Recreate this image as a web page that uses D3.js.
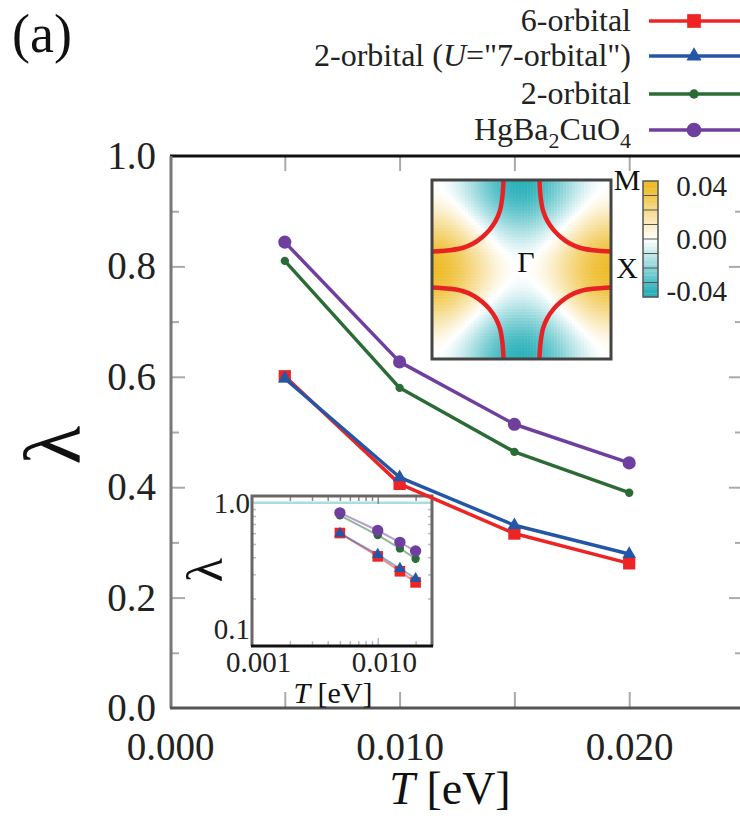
<!DOCTYPE html>
<html>
<head>
<meta charset="utf-8">
<script src="https://cdn.jsdelivr.net/npm/d3@7"></script>
<style>
  body { margin: 0; background: #fff; }
  svg { display: block; }
  svg text { font-family: "Liberation Serif", "Times New Roman", Times, "DejaVu Serif", "Noto Serif", serif; }
</style>
</head>
<body>
<div id="chart"></div>
<script>
// ---- data ----
const temps = [0.005, 0.010, 0.015, 0.020];
const sixOrbital = [0.601, 0.406, 0.316, 0.262];
const twoOrbitalU = [0.597, 0.418, 0.331, 0.279];
const twoOrbital = [0.810, 0.580, 0.464, 0.390];
const hgBaCuO = [0.844, 0.627, 0.514, 0.444];

const seriesColors = ['#ee2424', '#2456a8', '#2b6b35', '#6e3f9e'];
const seriesSymbols = ['square', 'triangle', 'dot', 'circle'];

const xTickLabels = [0.000, 0.010, 0.020];
const xTickMarks = [0.005, 0.010, 0.015, 0.020];
const yTickLabels = [0.0, 0.2, 0.4, 0.6, 0.8, 1.0];
const yTickMarks = [0.1, 0.2, 0.3, 0.4, 0.5, 0.6, 0.7, 0.8, 0.9];

const insetXLabels = [0.001, 0.010];
const insetXMarks = [0.002, 0.003, 0.004, 0.005, 0.006, 0.007, 0.008, 0.009, 0.010, 0.020];
const insetYLabels = [0.1, 1.0];
const insetYMarks = [0.2, 0.3, 0.4, 0.5, 0.6, 0.7, 0.8, 0.9];

const colorbarLabels = [0.04, 0.00, -0.04];
const gapAmplitude = 0.04;
// one Fermi-surface arc around the M corner, in units of pi (kx, ky)
const fermiArc = [[0.20, 1.0], [0.215, 0.80], [0.24, 0.66], [0.29, 0.54], [0.36, 0.44],
                  [0.44, 0.36], [0.54, 0.29], [0.66, 0.24], [0.80, 0.215], [1.0, 0.20]];

const series = [
  { values: sixOrbital, color: seriesColors[0], symbol: seriesSymbols[0] },
  { values: twoOrbitalU, color: seriesColors[1], symbol: seriesSymbols[1] },
  { values: twoOrbital, color: seriesColors[2], symbol: seriesSymbols[2] },
  { values: hgBaCuO, color: seriesColors[3], symbol: seriesSymbols[3] }
];

const width = 740, height = 820;

const svg = d3.select('#chart').append('svg')
  .attr('width', width).attr('height', height);

function markerPath(symbol, scale) {
  const sizes = { square: 150, triangle: 80, dot: 55, circle: 135 };
  const types = { square: d3.symbolSquare, triangle: d3.symbolTriangle, dot: d3.symbolCircle, circle: d3.symbolCircle };
  return d3.symbol().type(types[symbol]).size(sizes[symbol] * scale)();
}

// strip the axis' own font so the stylesheet's serif applies
const plain = g => g.attr('font-family', null).attr('font-size', null);

// ---- main scales ----
const x = d3.scaleLinear().domain([0, 0.025]).range([170, 744]);
const y = d3.scaleLinear().domain([0, 1]).range([708, 156]);

// ---- axes / frame ----
const tickGrey = '#aaaaaa';

// bottom ticks (inward)
svg.append('g').attr('transform', `translate(0,${y(0)})`)
  .call(d3.axisBottom(x).tickValues(xTickMarks).tickSize(-16).tickFormat(''))
  .call(g => g.select('.domain').remove())
  .call(g => g.selectAll('line').attr('stroke', tickGrey).attr('stroke-width', 2));
// top ticks (inward)
svg.append('g').attr('transform', `translate(0,${y(1)})`)
  .call(d3.axisTop(x).tickValues(xTickMarks).tickSize(-15).tickFormat(''))
  .call(g => g.select('.domain').remove())
  .call(g => g.selectAll('line').attr('stroke', tickGrey).attr('stroke-width', 2));
// bottom labels
svg.append('g').attr('transform', `translate(0,${y(0)})`)
  .call(d3.axisBottom(x).tickValues(xTickLabels).tickSize(0).tickPadding(24).tickFormat(d3.format('.3f')))
  .call(plain)
  .call(g => g.select('.domain').remove())
  .call(g => g.selectAll('text').attr('font-size', 39).attr('fill', '#222'));

// left ticks
svg.append('g').attr('transform', `translate(${x(0)},0)`)
  .call(d3.axisLeft(y).tickValues(yTickMarks).tickSize(-9).tickFormat(''))
  .call(g => g.select('.domain').remove())
  .call(g => g.selectAll('line').attr('stroke', tickGrey).attr('stroke-width', 2)
    .attr('x2', d => (Math.round(d * 10) % 2 === 0) ? 15 : 9));
// right ticks
svg.append('g').attr('transform', `translate(${x(0.025)},0)`)
  .call(d3.axisRight(y).tickValues(yTickMarks).tickSize(-9).tickFormat(''))
  .call(g => g.select('.domain').remove())
  .call(g => g.selectAll('line').attr('stroke', tickGrey).attr('stroke-width', 2)
    .attr('x2', d => (Math.round(d * 10) % 2 === 0) ? -15 : -9));
// left labels
svg.append('g').attr('transform', `translate(${x(0)},0)`)
  .call(d3.axisLeft(y).tickValues(yTickLabels).tickSize(0).tickPadding(14).tickFormat(d3.format('.1f')))
  .call(plain)
  .call(g => g.select('.domain').remove())
  .call(g => g.selectAll('text').attr('font-size', 39).attr('fill', '#222'));

// frame lines
svg.append('line').attr('x1', x(0)).attr('x2', width).attr('y1', y(1)).attr('y2', y(1))
  .attr('stroke', '#111').attr('stroke-width', 3);
svg.append('line').attr('x1', x(0) + 1).attr('x2', x(0) + 1).attr('y1', y(1)).attr('y2', y(0))
  .attr('stroke', '#777').attr('stroke-width', 3);
svg.append('line').attr('x1', x(0)).attr('x2', width).attr('y1', y(0)).attr('y2', y(0))
  .attr('stroke', '#555').attr('stroke-width', 3);

// axis titles
svg.append('text').attr('x', 450).attr('y', 804).attr('text-anchor', 'middle')
  .attr('font-size', 46).attr('fill', '#111')
  .call(t => { t.append('tspan').attr('font-style', 'italic').text('T'); t.append('tspan').text(' [eV]'); });
svg.append('text').attr('transform', 'translate(80,445) rotate(-90)').attr('text-anchor', 'middle')
  .attr('font-size', 80).attr('fill', '#111').text('λ');

svg.append('text').attr('x', 12).attr('y', 52).attr('font-size', 54).attr('fill', '#111').text('(a)');

// ---- log-log inset ----
const xi = d3.scaleLog().domain([0.001, 0.027]).range([252, 432]);
const yi = d3.scaleLog().domain([0.09, 1.12]).range([646, 496]);
const inset = svg.append('g');
inset.append('rect').attr('x', 252).attr('y', 496).attr('width', 180).attr('height', 150).attr('fill', '#fff');
inset.append('line').attr('x1', 252).attr('x2', 432).attr('y1', yi(1)).attr('y2', yi(1))
  .attr('stroke', '#a9dde0').attr('stroke-width', 2.5);

const insetTickLen = d => ([0.01].includes(d) ? 8 : 5);
inset.append('g').attr('transform', 'translate(0,496)')
  .call(d3.axisTop(xi).tickValues(insetXMarks).tickSize(-5).tickFormat(''))
  .call(g => g.select('.domain').remove())
  .call(g => g.selectAll('line').attr('stroke', '#888').attr('stroke-width', 1.5).attr('y2', insetTickLen));
inset.append('g').attr('transform', 'translate(0,646)')
  .call(d3.axisBottom(xi).tickValues(insetXMarks).tickSize(-5).tickFormat(''))
  .call(g => g.select('.domain').remove())
  .call(g => g.selectAll('line').attr('stroke', '#bbb').attr('stroke-width', 1.5).attr('y2', d => -insetTickLen(d)));
inset.append('g').attr('transform', 'translate(252,0)')
  .call(d3.axisLeft(yi).tickValues(insetYMarks).tickSize(-4).tickFormat(''))
  .call(g => g.select('.domain').remove())
  .call(g => g.selectAll('line').attr('stroke', '#bbb').attr('stroke-width', 1.5));
inset.append('g').attr('transform', 'translate(432,0)')
  .call(d3.axisRight(yi).tickValues(insetYMarks).tickSize(-4).tickFormat(''))
  .call(g => g.select('.domain').remove())
  .call(g => g.selectAll('line').attr('stroke', '#bbb').attr('stroke-width', 1.5));

inset.append('path').attr('d', 'M252,646 V496 H432 V646')
  .attr('fill', 'none').attr('stroke', '#6a6666').attr('stroke-width', 3);
inset.append('line').attr('x1', 251).attr('x2', 433).attr('y1', 646).attr('y2', 646)
  .attr('stroke', '#111').attr('stroke-width', 3);

inset.append('g').attr('transform', 'translate(0,646)')
  .call(d3.axisBottom(xi).tickValues(insetXLabels).tickSize(0).tickPadding(5).tickFormat(d3.format('.3f')))
  .call(plain)
  .call(g => g.select('.domain').remove())
  .call(g => g.selectAll('text').attr('font-size', 29).attr('fill', '#222').attr('dx', 6));
inset.append('g').attr('transform', 'translate(252,0)')
  .call(d3.axisLeft(yi).tickValues(insetYLabels).tickSize(0).tickPadding(2).tickFormat(d3.format('.1f')))
  .call(plain)
  .call(g => g.select('.domain').remove())
  .call(g => g.selectAll('text').attr('font-size', 29).attr('fill', '#222')
    .attr('dy', d => d < 0.5 ? '-0.05em' : '0.32em'));
inset.append('text').attr('x', 333).attr('y', 703).attr('text-anchor', 'middle')
  .attr('font-size', 30).attr('fill', '#111')
  .call(t => { t.append('tspan').attr('font-style', 'italic').text('T'); t.append('tspan').text(' [eV]'); });
inset.append('text').attr('transform', 'translate(222,570) rotate(-90)').attr('text-anchor', 'middle')
  .attr('font-size', 50).attr('fill', '#111').text('λ');

const insetLine = d3.line().x((d, i) => xi(temps[i])).y(d => yi(d));
series.forEach(s => {
  inset.append('path').attr('d', insetLine(s.values)).attr('fill', 'none')
    .attr('stroke', s.color).attr('stroke-opacity', 0.5).attr('stroke-width', 2);
});
series.forEach(s => {
  inset.selectAll(null).data(s.values).enter().append('path')
    .attr('d', markerPath(s.symbol, s.symbol === 'dot' ? 1 : 0.75))
    .attr('transform', (d, i) => `translate(${xi(temps[i])},${yi(d)})`)
    .attr('fill', s.color);
});

// ---- main series ----
const line = d3.line().x((d, i) => x(temps[i])).y(d => y(d));
series.forEach(s => {
  svg.append('path').attr('d', line(s.values)).attr('fill', 'none')
    .attr('stroke', s.color).attr('stroke-width', 3.5).attr('stroke-linejoin', 'round');
  svg.selectAll(null).data(s.values).enter().append('path')
    .attr('d', markerPath(s.symbol, 1))
    .attr('transform', (d, i) => `translate(${x(temps[i])},${y(d)})`)
    .attr('fill', s.color);
});

// ---- gap function map (d-wave form factor) ----
const mapX0 = 432, mapY0 = 180, mapSize = 179;
const kx = d3.scaleLinear().domain([-1, 1]).range([mapX0, mapX0 + mapSize]);
const ky = d3.scaleLinear().domain([-1, 1]).range([mapY0 + mapSize, mapY0]);
const gold = '#eebc2a', teal = '#2cb1ba';
const gapColor = v => v >= 0
  ? d3.interpolateRgb('#ffffff', gold)(Math.min(1, v / gapAmplitude))
  : d3.interpolateRgb('#ffffff', teal)(Math.min(1, -v / gapAmplitude));

const nCell = 60;
const cells = [];
for (let i = 0; i < nCell; i++) {
  for (let j = 0; j < nCell; j++) {
    const a = -1 + (i + 0.5) * 2 / nCell, b = -1 + (j + 0.5) * 2 / nCell;
    cells.push({ a, b, v: gapAmplitude * (Math.cos(Math.PI * b) - Math.cos(Math.PI * a)) / 2 });
  }
}
const cellW = mapSize / nCell;
const mapG = svg.append('g');
mapG.append('clipPath').attr('id', 'mapclip').append('rect')
  .attr('x', mapX0).attr('y', mapY0).attr('width', mapSize).attr('height', mapSize);
mapG.append('g').selectAll('rect').data(cells).enter().append('rect')
  .attr('x', d => kx(d.a) - cellW / 2).attr('y', d => ky(d.b) - cellW / 2)
  .attr('width', cellW + 0.4).attr('height', cellW + 0.4)
  .attr('fill', d => gapColor(d.v));

const arcLine = d3.line().x(d => kx(d[0])).y(d => ky(d[1])).curve(d3.curveCatmullRom);
[[1, 1], [-1, 1], [1, -1], [-1, -1]].forEach(([sx, sy]) => {
  mapG.append('path').attr('clip-path', 'url(#mapclip)')
    .attr('d', arcLine(fermiArc.map(p => [sx * p[0], sy * p[1]])))
    .attr('fill', 'none').attr('stroke', '#e82222').attr('stroke-width', 4.5);
});
mapG.append('rect').attr('x', mapX0).attr('y', mapY0).attr('width', mapSize).attr('height', mapSize)
  .attr('fill', 'none').attr('stroke', '#444').attr('stroke-width', 3);

svg.append('text').attr('x', kx(0.05)).attr('y', ky(0.08) + 10).attr('text-anchor', 'middle')
  .attr('font-size', 30).attr('fill', '#111').text('Γ');
svg.append('text').attr('x', 627).attr('y', 190).attr('text-anchor', 'middle')
  .attr('font-size', 30).attr('fill', '#111').text('M');
svg.append('text').attr('x', 627).attr('y', 278).attr('text-anchor', 'middle')
  .attr('font-size', 30).attr('fill', '#111').text('X');

// colour bar
const yc = d3.scaleLinear().domain([-0.0442, 0.0442]).range([297, 181]);
const nBand = 8, nSub = 4;
const bandStep = 0.0884 / (nBand * nSub);
const barG = svg.append('g');
d3.range(nBand * nSub).forEach(k => {
  const v0 = -0.0442 + k * bandStep;
  barG.append('rect').attr('x', 643).attr('width', 15)
    .attr('y', yc(v0 + bandStep)).attr('height', yc(v0) - yc(v0 + bandStep) + 0.3)
    .attr('fill', gapColor(v0 + bandStep / 2));
});
d3.range(1, nBand).forEach(k => {
  const v = -0.0442 + k * nSub * bandStep;
  barG.append('line').attr('x1', 643).attr('x2', 658).attr('y1', yc(v)).attr('y2', yc(v))
    .attr('stroke', '#555').attr('stroke-width', 1);
});
barG.append('rect').attr('x', 643).attr('y', 181).attr('width', 15).attr('height', 116)
  .attr('fill', 'none').attr('stroke', '#555').attr('stroke-width', 1.5);
svg.append('g').attr('transform', 'translate(727,0)')
  .call(d3.axisLeft(yc).tickValues(colorbarLabels).tickSize(0).tickPadding(0)
    .tickFormat(d => (d < 0 ? '-' : '') + d3.format('.2f')(Math.abs(d))))
  .call(plain)
  .call(g => g.select('.domain').remove())
  .call(g => g.selectAll('text').attr('font-size', 29).attr('fill', '#222'));

// ---- legend ----
const legendRows = [21, 56, 94, 130];
const legend = svg.append('g');
series.forEach((s, i) => {
  const ry = legendRows[i];
  legend.append('line').attr('x1', 649).attr('x2', 740).attr('y1', ry).attr('y2', ry)
    .attr('stroke', s.color).attr('stroke-width', 3.5);
  legend.append('path').attr('d', markerPath(s.symbol, 1.25))
    .attr('transform', `translate(694,${ry})`).attr('fill', s.color);
});
const lt = (i) => legend.append('text').attr('x', 631).attr('y', legendRows[i] + 10)
  .attr('text-anchor', 'end').attr('font-size', 32).attr('fill', '#222');
lt(0).text('6-orbital');
lt(1).call(t => {
  t.append('tspan').text('2-orbital (');
  t.append('tspan').attr('font-style', 'italic').text('U');
  t.append('tspan').text('="7-orbital")');
});
lt(2).text('2-orbital');
lt(3).call(t => {
  t.append('tspan').text('HgBa');
  t.append('tspan').attr('font-size', 22).attr('dy', 8).text('2');
  t.append('tspan').attr('dy', -8).text('CuO');
  t.append('tspan').attr('font-size', 22).attr('dy', 8).text('4');
});
</script>
</body>
</html>
